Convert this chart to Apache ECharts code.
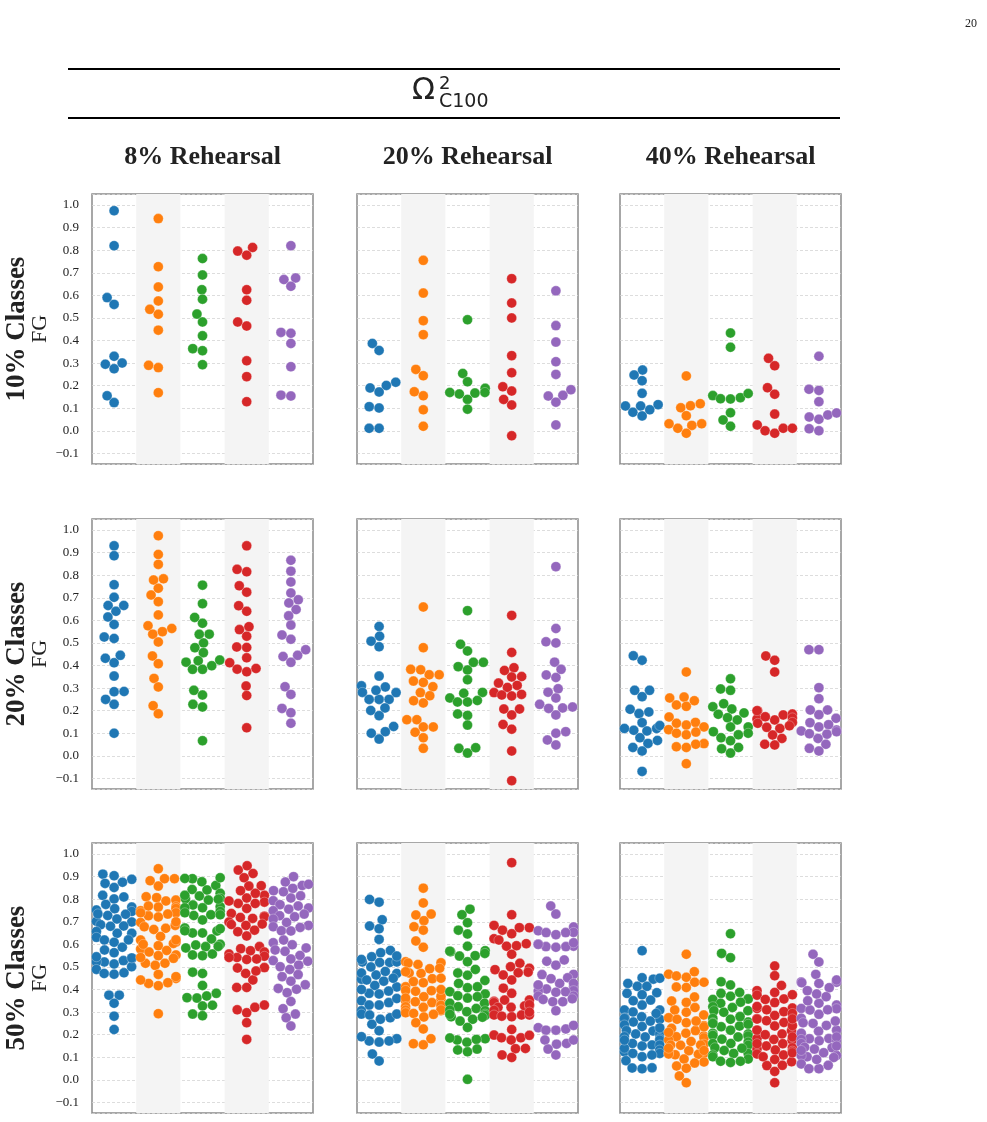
<!DOCTYPE html>
<html>
<head>
<meta charset="utf-8">
<script src="https://cdn.jsdelivr.net/npm/echarts@6/dist/echarts.min.js"></script>
<style>
  html, body { margin: 0; padding: 0; background: #fff; }
  #chart { width: 987px; height: 1122px; }
</style>
</head>
<body>
<div id="chart"></div>
<script>
// tab10 colours, one per method
const colors = ['#1f77b4', '#ff7f0e', '#2ca02c', '#d62728', '#9467bd'];
const rowLabels = ['10% Classes', '20% Classes', '50% Classes'];
const colLabels = ['8% Rehearsal', '20% Rehearsal', '40% Rehearsal'];
const yName = 'FG';

// FG values, each panel = [blue, orange, green, red, purple]
const c10_r8 = [
  [0.975, 0.82, 0.59, 0.56, 0.33, 0.295, 0.30, 0.275, 0.155, 0.125],
  [0.94, 0.727, 0.637, 0.575, 0.538, 0.516, 0.446, 0.29, 0.28, 0.169],
  [0.763, 0.69, 0.625, 0.583, 0.517, 0.482, 0.421, 0.364, 0.355, 0.293],
  [0.812, 0.796, 0.778, 0.625, 0.578, 0.482, 0.464, 0.31, 0.24, 0.129],
  [0.82, 0.677, 0.67, 0.64, 0.436, 0.432, 0.387, 0.284, 0.158, 0.154]
];
const c10_r20 = [
  [0.387, 0.356, 0.215, 0.201, 0.19, 0.172, 0.107, 0.101, 0.011, 0.011],
  [0.755, 0.61, 0.488, 0.426, 0.272, 0.244, 0.173, 0.155, 0.093, 0.02],
  [0.492, 0.254, 0.217, 0.188, 0.17, 0.163, 0.167, 0.17, 0.139, 0.096],
  [0.674, 0.566, 0.5, 0.333, 0.257, 0.195, 0.176, 0.139, 0.114, -0.022],
  [0.62, 0.466, 0.393, 0.306, 0.25, 0.182, 0.154, 0.157, 0.127, 0.026]
];
const c10_r40 = [
  [0.269, 0.247, 0.222, 0.166, 0.116, 0.11, 0.082, 0.093, 0.11, 0.066],
  [0.243, 0.102, 0.111, 0.12, 0.067, 0.031, 0.011, 0.024, 0.031, -0.011],
  [0.433, 0.37, 0.156, 0.142, 0.141, 0.147, 0.165, 0.08, 0.048, 0.02],
  [0.321, 0.288, 0.191, 0.162, 0.074, 0.026, 0.0, -0.011, 0.011, 0.011],
  [0.33, 0.184, 0.179, 0.129, 0.061, 0.051, 0.07, 0.079, 0.009, 0.0]
];
const c20_r8 = [
  [0.93, 0.886, 0.758, 0.702, 0.666, 0.64, 0.666, 0.615, 0.582, 0.526, 0.52, 0.432, 0.412, 0.445, 0.353, 0.284, 0.285, 0.25, 0.228, 0.1],
  [0.975, 0.892, 0.848, 0.779, 0.784, 0.742, 0.712, 0.683, 0.624, 0.564, 0.576, 0.539, 0.55, 0.504, 0.442, 0.408, 0.343, 0.305, 0.222, 0.186],
  [0.756, 0.674, 0.613, 0.587, 0.539, 0.538, 0.5, 0.479, 0.457, 0.421, 0.415, 0.424, 0.399, 0.383, 0.383, 0.29, 0.269, 0.228, 0.216, 0.067],
  [0.93, 0.815, 0.826, 0.753, 0.725, 0.665, 0.64, 0.559, 0.572, 0.53, 0.48, 0.482, 0.434, 0.412, 0.384, 0.372, 0.387, 0.309, 0.267, 0.124],
  [0.866, 0.818, 0.77, 0.721, 0.677, 0.691, 0.648, 0.62, 0.579, 0.535, 0.516, 0.47, 0.44, 0.445, 0.414, 0.306, 0.272, 0.21, 0.191, 0.144]
];
const c20_r20 = [
  [0.573, 0.53, 0.508, 0.483, 0.353, 0.305, 0.31, 0.281, 0.28, 0.25, 0.25, 0.25, 0.212, 0.201, 0.178, 0.13, 0.1, 0.107, 0.074, 0.29],
  [0.659, 0.479, 0.359, 0.359, 0.381, 0.383, 0.325, 0.331, 0.306, 0.28, 0.266, 0.244, 0.234, 0.16, 0.16, 0.128, 0.128, 0.104, 0.08, 0.033],
  [0.643, 0.494, 0.464, 0.414, 0.414, 0.395, 0.38, 0.337, 0.281, 0.277, 0.256, 0.238, 0.238, 0.245, 0.185, 0.179, 0.136, 0.033, 0.012, 0.036],
  [0.622, 0.458, 0.378, 0.39, 0.349, 0.351, 0.322, 0.312, 0.303, 0.28, 0.269, 0.265, 0.272, 0.207, 0.207, 0.181, 0.139, 0.118, 0.021, -0.11],
  [0.838, 0.564, 0.505, 0.5, 0.415, 0.383, 0.358, 0.347, 0.297, 0.282, 0.256, 0.228, 0.21, 0.212, 0.216, 0.181, 0.1, 0.107, 0.07, 0.048]
];
const c20_r40 = [
  [0.443, 0.423, 0.29, 0.29, 0.262, 0.194, 0.187, 0.206, 0.147, 0.121, 0.113, 0.11, 0.121, 0.134, 0.08, 0.055, 0.068, 0.037, 0.021, -0.069],
  [0.371, 0.256, 0.26, 0.244, 0.225, 0.219, 0.172, 0.144, 0.148, 0.136, 0.128, 0.116, 0.1, 0.093, 0.105, 0.054, 0.051, 0.04, 0.037, -0.035],
  [0.341, 0.296, 0.29, 0.231, 0.207, 0.217, 0.19, 0.184, 0.169, 0.159, 0.128, 0.128, 0.107, 0.1, 0.093, 0.08, 0.067, 0.031, 0.037, 0.012],
  [0.442, 0.423, 0.371, 0.2, 0.181, 0.185, 0.163, 0.144, 0.159, 0.173, 0.2, 0.168, 0.148, 0.133, 0.126, 0.121, 0.092, 0.077, 0.051, 0.048],
  [0.47, 0.47, 0.302, 0.253, 0.203, 0.203, 0.182, 0.166, 0.147, 0.128, 0.138, 0.114, 0.11, 0.096, 0.098, 0.077, 0.051, 0.033, 0.021, 0.107]
];
const c50_r8 = [
  [0.888, 0.911, 0.904, 0.870, 0.875, 0.852, 0.817, 0.801, 0.810, 0.777, 0.765, 0.758, 0.746, 0.728, 0.733, 0.752, 0.712, 0.702, 0.687, 0.699,
   0.681, 0.657, 0.649, 0.649, 0.631, 0.619, 0.609, 0.587, 0.575, 0.563, 0.536, 0.522, 0.513, 0.522, 0.545, 0.489, 0.471, 0.468, 0.474, 0.501,
   0.375, 0.375, 0.339, 0.282, 0.223, 0.528, 0.735, 0.62, 0.68, 0.54],
  [0.935, 0.882, 0.891, 0.891, 0.858, 0.807, 0.792, 0.796, 0.811, 0.765, 0.767, 0.759, 0.740, 0.727, 0.734, 0.749, 0.721, 0.697, 0.684, 0.671,
   0.678, 0.666, 0.635, 0.619, 0.610, 0.604, 0.594, 0.579, 0.573, 0.566, 0.553, 0.550, 0.538, 0.516, 0.507, 0.516, 0.542, 0.449, 0.430, 0.417,
   0.427, 0.457, 0.442, 0.467, 0.293, 0.74, 0.70, 0.60, 0.62, 0.77],
  [0.891, 0.877, 0.841, 0.861, 0.843, 0.892, 0.895, 0.826, 0.814, 0.802, 0.796, 0.817, 0.804, 0.774, 0.767, 0.762, 0.746, 0.728, 0.731, 0.762,
   0.731, 0.708, 0.672, 0.659, 0.650, 0.650, 0.669, 0.624, 0.600, 0.584, 0.590, 0.597, 0.591, 0.553, 0.550, 0.557, 0.477, 0.471, 0.418, 0.383,
   0.362, 0.364, 0.371, 0.327, 0.330, 0.291, 0.284, 0.80, 0.74, 0.66],
  [0.929, 0.948, 0.914, 0.895, 0.858, 0.860, 0.838, 0.817, 0.826, 0.805, 0.787, 0.781, 0.781, 0.792, 0.759, 0.737, 0.725, 0.719, 0.715, 0.722,
   0.699, 0.688, 0.684, 0.690, 0.663, 0.656, 0.637, 0.590, 0.566, 0.581, 0.572, 0.557, 0.547, 0.542, 0.535, 0.542, 0.533, 0.495, 0.497, 0.471,
   0.442, 0.482, 0.409, 0.409, 0.310, 0.297, 0.321, 0.331, 0.253, 0.179],
  [0.900, 0.876, 0.861, 0.838, 0.833, 0.866, 0.848, 0.793, 0.805, 0.815, 0.770, 0.756, 0.776, 0.761, 0.749, 0.734, 0.727, 0.722, 0.712, 0.697,
   0.678, 0.684, 0.675, 0.660, 0.659, 0.619, 0.607, 0.598, 0.575, 0.584, 0.569, 0.551, 0.535, 0.528, 0.525, 0.508, 0.501, 0.489, 0.466, 0.457,
   0.437, 0.421, 0.405, 0.401, 0.386, 0.347, 0.315, 0.291, 0.275, 0.238]
];
const c50_r20 = [
  [0.799, 0.787, 0.709, 0.681, 0.669, 0.622, 0.573, 0.563, 0.545, 0.522, 0.520, 0.520, 0.522, 0.548, 0.533, 0.471, 0.464, 0.446, 0.473, 0.480,
   0.437, 0.418, 0.411, 0.383, 0.380, 0.393, 0.350, 0.342, 0.331, 0.331, 0.306, 0.291, 0.287, 0.268, 0.275, 0.291, 0.246, 0.217, 0.182, 0.172,
   0.167, 0.172, 0.191, 0.114, 0.083, 0.442, 0.50, 0.36, 0.40, 0.45],
  [0.849, 0.783, 0.730, 0.734, 0.705, 0.678, 0.663, 0.615, 0.587, 0.523, 0.517, 0.518, 0.511, 0.494, 0.473, 0.492, 0.471, 0.479, 0.448, 0.435,
   0.430, 0.412, 0.396, 0.392, 0.395, 0.368, 0.356, 0.350, 0.362, 0.342, 0.331, 0.324, 0.321, 0.309, 0.306, 0.297, 0.294, 0.278, 0.253, 0.225,
   0.182, 0.160, 0.155, 0.346, 0.37, 0.33, 0.45, 0.40, 0.31, 0.29],
  [0.756, 0.731, 0.696, 0.663, 0.646, 0.592, 0.567, 0.570, 0.548, 0.550, 0.572, 0.560, 0.523, 0.489, 0.473, 0.463, 0.427, 0.408, 0.412, 0.390,
   0.380, 0.368, 0.362, 0.372, 0.339, 0.339, 0.316, 0.306, 0.324, 0.302, 0.291, 0.285, 0.291, 0.268, 0.277, 0.279, 0.260, 0.232, 0.182, 0.176,
   0.166, 0.185, 0.179, 0.136, 0.132, 0.124, 0.002, 0.309, 0.44, 0.29],
  [0.962, 0.731, 0.684, 0.663, 0.647, 0.674, 0.674, 0.625, 0.619, 0.603, 0.592, 0.594, 0.556, 0.516, 0.501, 0.494, 0.488, 0.477, 0.474, 0.464,
   0.442, 0.406, 0.383, 0.348, 0.353, 0.353, 0.346, 0.342, 0.327, 0.321, 0.321, 0.327, 0.308, 0.287, 0.287, 0.279, 0.287, 0.282, 0.223, 0.198,
   0.186, 0.186, 0.197, 0.176, 0.139, 0.138, 0.110, 0.099, 0.333, 0.30],
  [0.770, 0.734, 0.677, 0.660, 0.653, 0.652, 0.652, 0.643, 0.601, 0.592, 0.590, 0.590, 0.607, 0.587, 0.525, 0.508, 0.531, 0.467, 0.466, 0.452,
   0.427, 0.448, 0.418, 0.412, 0.427, 0.402, 0.395, 0.393, 0.390, 0.371, 0.371, 0.356, 0.346, 0.346, 0.359, 0.306, 0.231, 0.220, 0.220, 0.225,
   0.241, 0.176, 0.158, 0.161, 0.176, 0.136, 0.110, 0.388, 0.42, 0.60]
];
const c50_r40 = [
  [0.572, 0.446, 0.452, 0.414, 0.414, 0.427, 0.450, 0.377, 0.383, 0.386, 0.353, 0.331, 0.309, 0.309, 0.300, 0.279, 0.275, 0.268, 0.272, 0.256,
   0.243, 0.236, 0.216, 0.203, 0.203, 0.218, 0.191, 0.182, 0.176, 0.161, 0.154, 0.154, 0.150, 0.132, 0.124, 0.117, 0.117, 0.102, 0.085, 0.052,
   0.049, 0.053, 0.14, 0.294, 0.176, 0.35, 0.26, 0.23, 0.19, 0.11],
  [0.556, 0.468, 0.460, 0.479, 0.454, 0.432, 0.432, 0.411, 0.409, 0.367, 0.343, 0.349, 0.309, 0.299, 0.287, 0.275, 0.268, 0.253, 0.240, 0.228,
   0.218, 0.206, 0.194, 0.191, 0.186, 0.176, 0.158, 0.154, 0.154, 0.153, 0.129, 0.117, 0.111, 0.113, 0.120, 0.114, 0.092, 0.079, 0.074, 0.061,
   0.051, 0.017, -0.013, 0.235, 0.32, 0.26, 0.17, 0.14, 0.21, 0.13],
  [0.647, 0.560, 0.541, 0.434, 0.420, 0.387, 0.383, 0.359, 0.356, 0.358, 0.344, 0.339, 0.324, 0.306, 0.306, 0.299, 0.272, 0.268, 0.256, 0.253,
   0.238, 0.246, 0.235, 0.206, 0.203, 0.194, 0.198, 0.197, 0.167, 0.161, 0.161, 0.153, 0.142, 0.117, 0.117, 0.110, 0.102, 0.092, 0.082, 0.077,
   0.082, 0.19, 0.13, 0.28, 0.22, 0.32, 0.18, 0.14, 0.25, 0.37],
  [0.504, 0.461, 0.418, 0.395, 0.387, 0.375, 0.356, 0.358, 0.377, 0.342, 0.318, 0.316, 0.325, 0.302, 0.294, 0.285, 0.271, 0.269, 0.254, 0.262,
   0.238, 0.220, 0.217, 0.203, 0.179, 0.175, 0.183, 0.150, 0.142, 0.136, 0.127, 0.132, 0.114, 0.110, 0.102, 0.090, 0.080, 0.064, 0.063, 0.037,
   -0.013, 0.22, 0.19, 0.16, 0.24, 0.31, 0.27, 0.12, 0.16, 0.20],
  [0.556, 0.522, 0.467, 0.433, 0.432, 0.442, 0.427, 0.430, 0.408, 0.395, 0.368, 0.331, 0.315, 0.316, 0.339, 0.309, 0.273, 0.250, 0.253, 0.241,
   0.215, 0.206, 0.183, 0.182, 0.176, 0.173, 0.179, 0.161, 0.136, 0.142, 0.144, 0.120, 0.108, 0.102, 0.107, 0.099, 0.070, 0.049, 0.049, 0.064,
   0.38, 0.35, 0.29, 0.22, 0.19, 0.13, 0.09, 0.26, 0.31, 0.15]
];

const panels = [
  [c10_r8, c10_r20, c10_r40],
  [c20_r8, c20_r20, c20_r40],
  [c50_r8, c50_r20, c50_r40]
];

const gridLeft = [92, 357, 620];
const gridTop = [194, 519, 843];
const gridW = 221, gridH = 270;
const dotSize = 10;

var myChart = echarts.init(document.getElementById('chart'));

var grids = [], xAxes = [], yAxes = [];
for (let r = 0; r < 3; r++) {
  for (let c = 0; c < 3; c++) {
    const g = r * 3 + c;
    grids.push({
      left: gridLeft[c], top: gridTop[r], width: gridW, height: gridH,
      show: true, borderColor: '#8a8a8a', borderWidth: 1.5, backgroundColor: 'transparent'
    });
    xAxes.push({
      gridIndex: g, type: 'value', min: -0.5, max: 4.5, interval: 1,
      axisLine: { show: false }, axisTick: { show: false }, axisLabel: { show: false },
      splitLine: { show: false },
      splitArea: { show: true, areaStyle: { color: ['rgba(255,255,255,0)', '#f4f4f4'] } }
    });
    yAxes.push({
      gridIndex: g, type: 'value', min: -0.147, max: 1.049,
      splitNumber: 12, minInterval: 0.1, maxInterval: 0.1,
      name: c === 0 ? yName : '', nameLocation: 'middle', nameGap: 36, nameRotate: 90,
      nameTextStyle: { fontFamily: 'Liberation Serif', fontSize: 22, color: '#222' },
      axisLine: { show: false }, axisTick: { show: false },
      axisLabel: {
        show: c === 0, showMinLabel: false, showMaxLabel: false, margin: 13,
        fontFamily: 'Liberation Serif', fontSize: 13, color: '#222',
        formatter: function (v) {
          if (Math.abs(v) < 1e-9) return '0.0';
          return v.toFixed(1).replace('-', '\u2212');
        }
      },
      splitLine: { show: true, lineStyle: { color: '#d4d4d4', width: 0.8, type: [3, 2] } }
    });
  }
}

var graphics = [
  { type: 'text', left: 965, top: 18, style: { text: '20', font: '12px "Liberation Serif"', fill: '#222' } },
  { type: 'line', shape: { x1: 68, y1: 69, x2: 840, y2: 69 }, style: { stroke: '#000', lineWidth: 2 } },
  { type: 'line', shape: { x1: 68, y1: 118, x2: 840, y2: 118 }, style: { stroke: '#000', lineWidth: 2 } },
  { type: 'text', x: 412, y: 91, style: { text: 'Ω', font: '30px "DejaVu Sans"', fill: '#222', textVerticalAlign: 'middle' } },
  { type: 'text', x: 439, y: 84, style: { text: '2', font: '18px "DejaVu Sans"', fill: '#222', textVerticalAlign: 'middle' } },
  { type: 'text', x: 439, y: 102, style: { text: 'C100', font: '19px "DejaVu Sans"', fill: '#222', textVerticalAlign: 'middle' } }
];
colLabels.forEach(function (t, c) {
  graphics.push({
    type: 'text', x: gridLeft[c] + gridW / 2, y: 157,
    style: { text: t, font: 'bold 26px "Liberation Serif"', fill: '#222', textAlign: 'center', textVerticalAlign: 'middle' }
  });
});
rowLabels.forEach(function (t, r) {
  graphics.push({
    type: 'text', x: 17, y: gridTop[r] + gridH / 2, rotation: Math.PI / 2,
    style: { text: t, font: 'bold 27px "Liberation Serif"', fill: '#222', textAlign: 'center', textVerticalAlign: 'middle' }
  });
});

myChart.setOption({
  animation: false,
  backgroundColor: '#fff',
  grid: grids, xAxis: xAxes, yAxis: yAxes,
  graphic: graphics,
  series: []
});

// seaborn-like beeswarm, worked out in pixels
function swarmOffsets(values, pxPerY, d, gutter) {
  const pts = values.map(function (v, i) { return { i: i, y: v * pxPerY, x: 0 }; });
  const order = pts.slice().sort(function (a, b) { return a.y - b.y; });
  const placed = [];
  order.forEach(function (p) {
    const neigh = placed.filter(function (q) { return Math.abs(q.y - p.y) < d; });
    const cands = [0];
    let leftFirst = true;
    neigh.slice().reverse().forEach(function (q) {
      const dx = Math.sqrt(Math.max(d * d - (q.y - p.y) * (q.y - p.y), 0)) * 1.05;
      if (leftFirst) cands.push(q.x - dx, q.x + dx); else cands.push(q.x + dx, q.x - dx);
      leftFirst = !leftFirst;
    });
    const sorted = cands.map(function (x, k) { return { x: x, k: k }; })
      .sort(function (a, b) { return Math.abs(a.x) - Math.abs(b.x) || a.k - b.k; });
    let chosen = sorted[sorted.length - 1].x;
    for (const s of sorted) {
      const ok = neigh.every(function (q) {
        return (q.x - s.x) * (q.x - s.x) + (q.y - p.y) * (q.y - p.y) >= d * d * 0.999;
      });
      if (ok) { chosen = s.x; break; }
    }
    p.x = chosen;
    placed.push(p);
  });
  return pts.map(function (p) { return Math.max(-gutter, Math.min(gutter, p.x)); });
}

var series = [];
for (let r = 0; r < 3; r++) {
  for (let c = 0; c < 3; c++) {
    const g = r * 3 + c;
    const p0 = myChart.convertToPixel({ gridIndex: g }, [0, 0]);
    const p1 = myChart.convertToPixel({ gridIndex: g }, [1, 1]);
    const pxX = p1[0] - p0[0];
    const pxY = p0[1] - p1[1];
    panels[r][c].forEach(function (vals, k) {
      const offs = swarmOffsets(vals, pxY, 9.5, 0.4 * pxX);
      series.push({
        type: 'scatter', xAxisIndex: g, yAxisIndex: g,
        symbol: 'circle', symbolSize: dotSize,
        itemStyle: { color: colors[k], opacity: 1, borderColor: 'rgba(255,255,255,0.7)', borderWidth: 0.4 },
        data: vals.map(function (v, i) { return [k + offs[i] / pxX, v]; })
      });
    });
  }
}
myChart.setOption({ series: series });
</script>
</body>
</html>
